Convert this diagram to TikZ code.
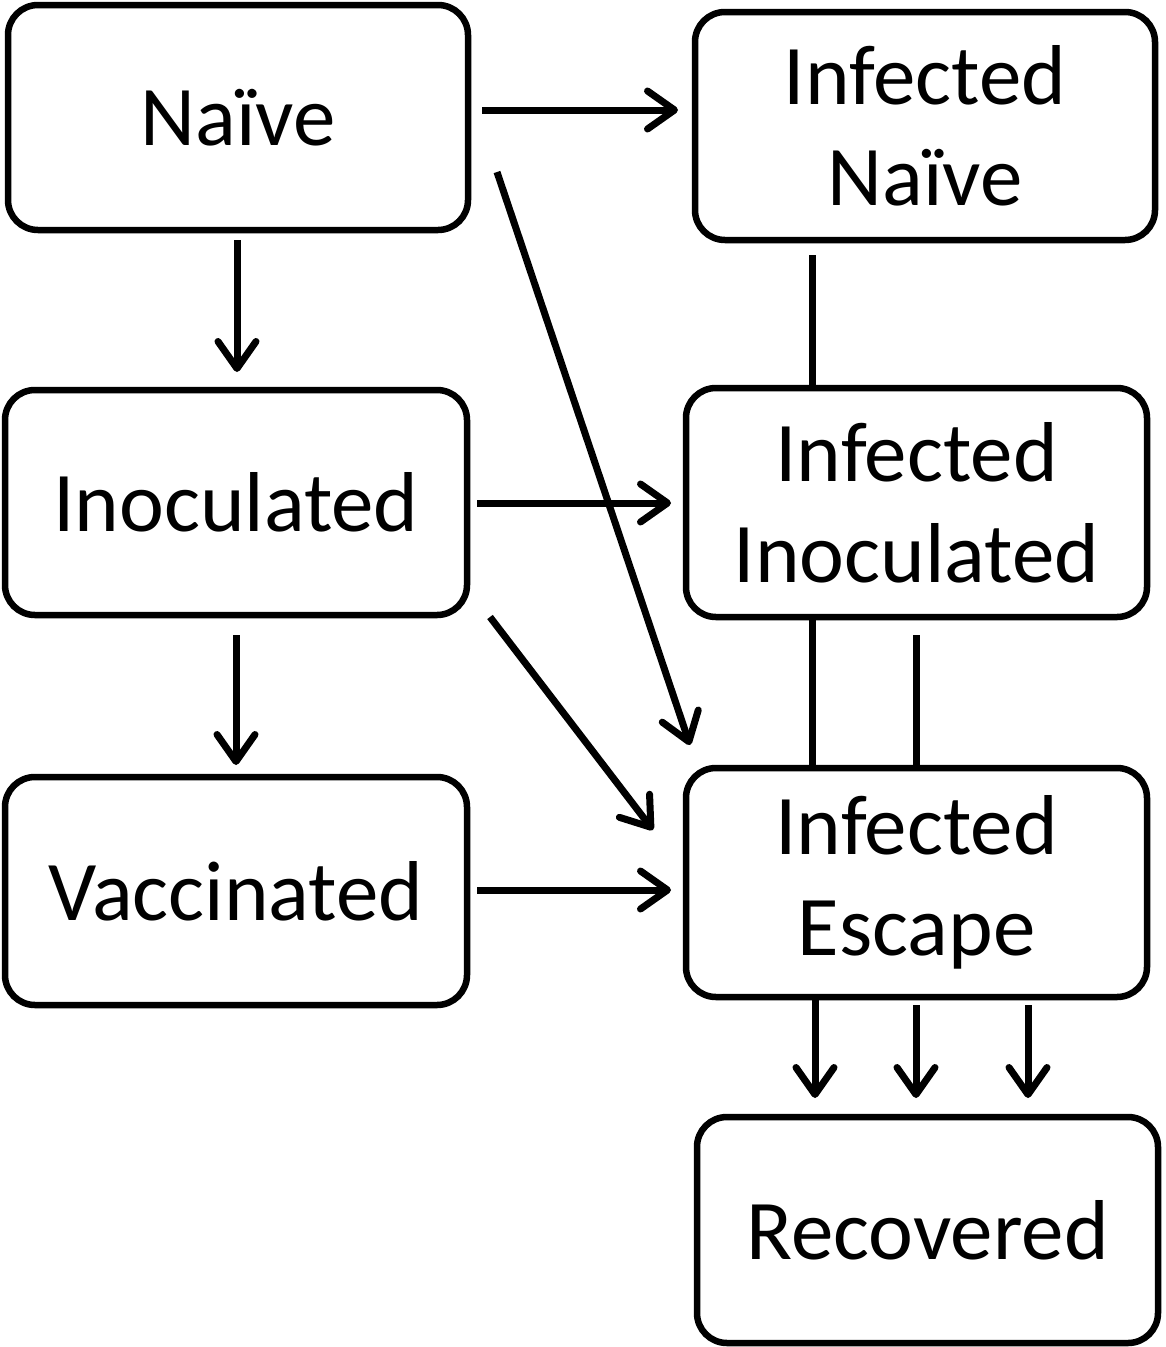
\documentclass[tikz,border=0pt]{standalone}
\usepackage{fontspec}
\setmainfont{Carlito}
\usetikzlibrary{arrows.meta}
\begin{document}
\begin{tikzpicture}[x=1pt,y=-1pt,
  box/.style={draw,line width=6.5pt,rounded corners=30pt,inner sep=0pt,align=center,
    font=\fontsize{85}{101}\selectfont},
  arr/.style={line width=7pt,-{Straight Barb[length=27pt,width=38pt,line width=7pt,round]}},
  ln/.style={line width=7pt}]
\useasboundingbox (0,0) rectangle (1166,1347);
\node[box,minimum width=460pt,minimum height=225pt] (naive) at (238,117.5) {Naïve};
\node[box,minimum width=460pt,minimum height=228pt] (inaive) at (925,126) {Infected\\Naïve};
\node[box,minimum width=462pt,minimum height=225pt] (inoc) at (236,502.5) {Inoculated};
\node[box,minimum width=461pt,minimum height=229pt] (iinoc) at (916.5,502.5) {Infected\\Inoculated};
\node[box,minimum width=462pt,minimum height=228pt] (vacc) at (236,891) {Vaccinated};
\node[box,minimum width=461pt,minimum height=229pt] (iesc) at (916.5,882.5) {Infected\\Escape};
\node[box,minimum width=461pt,minimum height=226pt] (rec) at (927.5,1230) {Recovered};
% endpoints
\coordinate (a1s) at (482,110); \coordinate (a1e) at (678,110);
\coordinate (a2s) at (237,240); \coordinate (a2e) at (237,372);
\coordinate (a3s) at (497,172); \coordinate (a3e) at (690,745);
\coordinate (b1s) at (477,503); \coordinate (b1e) at (671,503);
\coordinate (b2s) at (236,635); \coordinate (b2e) at (236,765);
\coordinate (b3s) at (490,617); \coordinate (b3e) at (653,830);
\coordinate (c1s) at (477,890); \coordinate (c1e) at (671,890);
\coordinate (l1s) at (812,255); \coordinate (l1e) at (812,388);
\coordinate (l2s) at (812,617); \coordinate (l2e) at (812,768);
\coordinate (l3s) at (916,635); \coordinate (l3e) at (916,768);
\coordinate (d1s) at (815,998); \coordinate (d1e) at (815,1098);
\coordinate (d2s) at (916,1005); \coordinate (d2e) at (916,1098);
\coordinate (d3s) at (1028,1005); \coordinate (d3e) at (1028,1098);
\draw[arr] (a1s) -- (a1e);
\draw[arr] (a2s) -- (a2e);
\draw[arr] (a3s) -- (a3e);
\draw[arr] (b1s) -- (b1e);
\draw[arr] (b2s) -- (b2e);
\draw[arr] (b3s) -- (b3e);
\draw[arr] (c1s) -- (c1e);
\draw[ln] (l1s) -- (l1e);
\draw[ln] (l2s) -- (l2e);
\draw[ln] (l3s) -- (l3e);
\draw[arr] (d1s) -- (d1e);
\draw[arr] (d2s) -- (d2e);
\draw[arr] (d3s) -- (d3e);
\end{tikzpicture}
\end{document}
